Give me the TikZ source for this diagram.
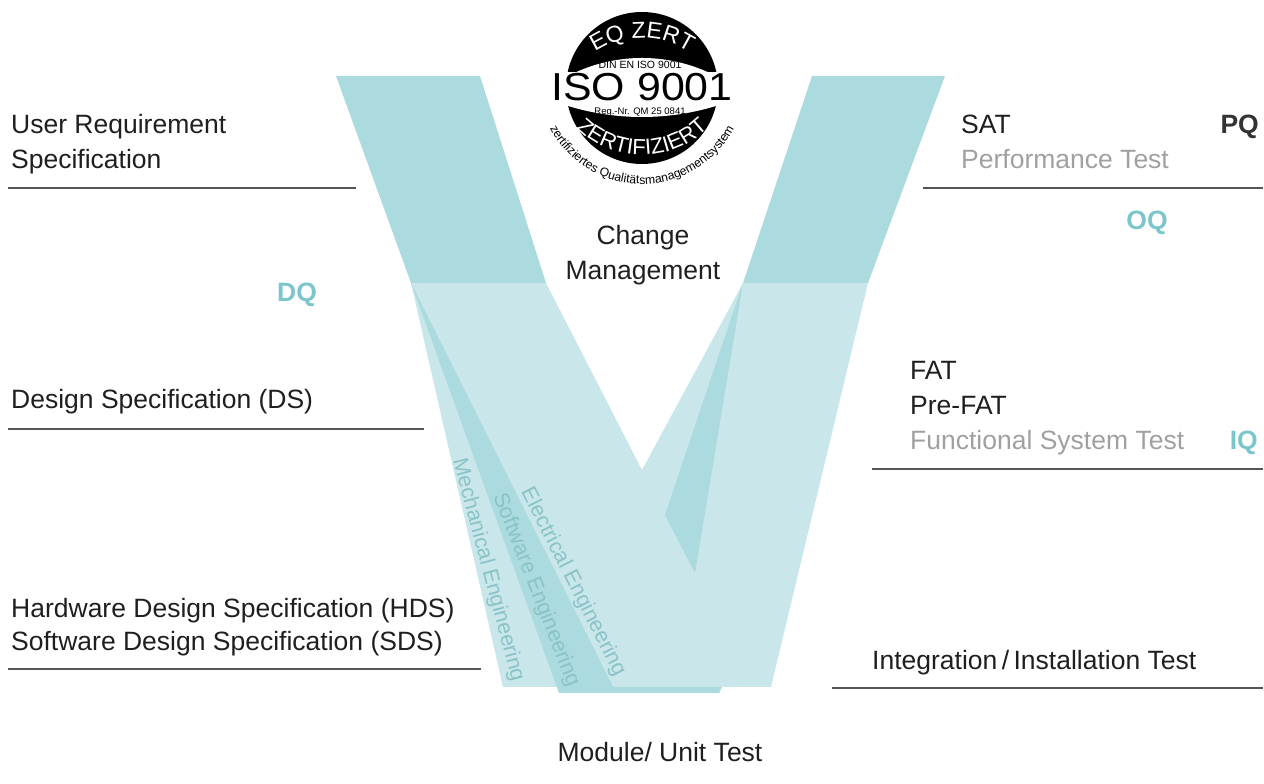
\documentclass[tikz,border=0pt]{standalone}
\usepackage{fontspec}
\setmainfont{Liberation Sans}
\usetikzlibrary{decorations.text}
\definecolor{vdark}{RGB}{171,218,223}
\definecolor{vlight}{RGB}{201,231,234}
\definecolor{qteal}{RGB}{124,197,204}
\definecolor{engteal}{RGB}{137,195,200}
\definecolor{subgray}{RGB}{160,160,160}
\definecolor{rulegray}{RGB}{85,85,85}
\definecolor{pqgray}{RGB}{51,51,51}
\begin{document}
\begin{tikzpicture}[x=1pt,y=1pt,
	lbl/.style={inner sep=0pt,anchor=base west,text=black!88,font=\fontsize{26.5}{32}\selectfont},
	sub/.style={lbl,text=subgray},
	qual/.style={inner sep=0pt,anchor=base,text=qteal,font=\fontsize{26.5}{32}\selectfont\bfseries},
	eng/.style={inner sep=0pt,text=engteal,font=\fontsize{21.5}{26}\selectfont},
	sep/.style={draw=rulegray,line width=1.2pt},
	seal/.style={decorate,decoration={text along path,text align=center,#1}}]
	\useasboundingbox (0,0) rectangle (1264,784);
	\fill[vlight] (411,501)--(546,501)--(642,314)--(743,501)--(868,501)--(771,97)--(503,97)--cycle;
	\fill[vdark] (411,501)--(559,91)--(719,91)--(722,97)--(613,97)--cycle;
	\fill[vdark] (743,501)--(665,269)--(695,211)--cycle;
	\fill[vdark] (336,708)--(480,708)--(546,501)--(411,501)--cycle;
	\fill[vdark] (812,708)--(945,708)--(868,501)--(743,501)--cycle;
	\node[eng,rotate=-75] (mech) at (488,214) {Mechanical Engineering};
	\node[eng,rotate=-68.5] (soft) at (536,194) {Software Engineering};
	\node[eng,rotate=-63] (elec) at (573,202) {Electrical Engineering};
	\fill[black] (642,696) circle (76);
	\begin{scope}
		\clip (642,566) circle (160);
		\fill[white] (642,919) circle (252);
	\end{scope}
	\fill[white] (549,680) rectangle (734,712);
	\node[inner sep=0pt,anchor=base,font=\fontsize{39}{39}\selectfont,xscale=1.1] (iso) at (642,683) {ISO 9001};
	\node[inner sep=0pt,anchor=base,font=\fontsize{10.5}{11}\selectfont] (din) at (640,715.5) {DIN EN ISO 9001};
	\node[inner sep=0pt,anchor=base,font=\fontsize{9.5}{10}\selectfont] (reg) at (640,669.5) {Reg.-Nr. QM 25 0841};
	\path[seal={text color=white,text={|\fontsize{23}{23}\selectfont|EQ ZERT}}] (642,661) ++(150:85) arc[start angle=150,end angle=30,radius=85];
	\path[seal={text color=white,text={|\fontsize{22}{22}\selectfont|ZERTIFIZIERT}}] (642,723) ++(200:94) arc[start angle=200,end angle=340,radius=94];
	\path[seal={text color=black,text={|\fontsize{12.2}{13}\selectfont|zertifiziertes Qualitätsmanagementsystem}}] (642,704) ++(190:104) arc[start angle=190,end angle=350,radius=104];
	\node[inner sep=0pt,anchor=base,text=black!88,font=\fontsize{26.5}{32}\selectfont] (chg) at (643,539) {Change};
	\node[inner sep=0pt,anchor=base,text=black!88,font=\fontsize{26.5}{32}\selectfont] (mgmt) at (643,504) {Management};
	\node[lbl] (urs1) at (11,650.7) {User Requirement};
	\node[lbl] (urs2) at (11,615.7) {Specification};
	\node[lbl] (ds) at (11,375.7) {Design Specification (DS)};
	\node[lbl] (hds) at (11,166.5) {Hardware Design Specification (HDS)};
	\node[lbl] (sds) at (11,133.5) {Software Design Specification (SDS)};
	\node[qual] (dq) at (297,482.3) {DQ};
	\node[lbl] (sat) at (961,650.7) {SAT};
	\node[sub] (perf) at (961,615.7) {Performance Test};
	\node[qual,anchor=base east,text=pqgray] (pq) at (1259,650.7) {PQ};
	\node[qual] (oq) at (1147,554) {OQ};
	\node[lbl] (fat) at (910,404.7) {FAT};
	\node[lbl] (prefat) at (910,369.2) {Pre-FAT};
	\node[sub] (fst) at (910,334.7) {Functional System Test};
	\node[qual,anchor=base east] (iq) at (1258,334.7) {IQ};
	\node[lbl] (iit) at (872,114.5) {Integration\,/\,Installation Test};
	\node[lbl,anchor=base] (mut) at (660,22) {Module/ Unit Test};
	\draw[sep] (8,596)--(356,596) (8,355)--(424,355) (8,115)--(481,115);
	\draw[sep] (923,596)--(1263,596) (872,315)--(1263,315) (832,96)--(1263,96);
\end{tikzpicture}
\end{document}
